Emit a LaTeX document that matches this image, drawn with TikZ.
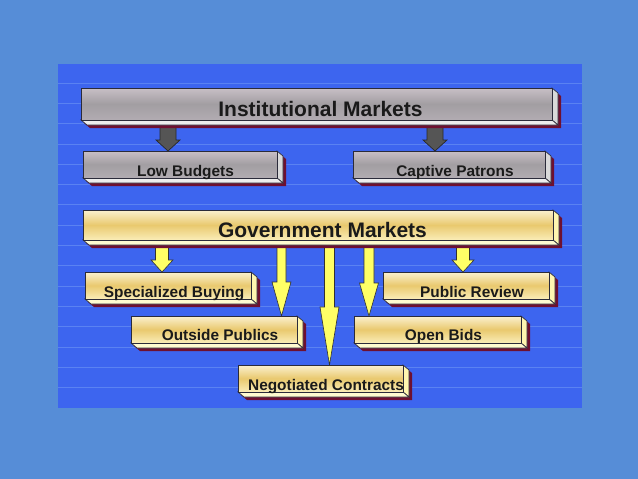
\documentclass[tikz,border=0pt]{standalone}
\usepackage{fontspec}
\setmainfont{Liberation Sans}
\usetikzlibrary{calc,backgrounds}
\pgfdeclarelayer{arrowlayer}
\pgfsetlayers{background,arrowlayer,main}
\definecolor{outerbg}{HTML}{568DD7}
\definecolor{panelbg}{HTML}{3D65EF}
\definecolor{panelline}{HTML}{5A82F2}
\definecolor{shadowc}{HTML}{6E1030}
\definecolor{edgec}{HTML}{2B2B3A}
\definecolor{txtc}{HTML}{1A1A1A}
\definecolor{gtop}{HTML}{C8BFC6}
\definecolor{gmid}{HTML}{A29EA2}
\definecolor{gbot}{HTML}{B2ACB2}
\definecolor{ytop}{HTML}{FBF1D0}
\definecolor{ymid}{HTML}{E9C96E}
\definecolor{ybot}{HTML}{FAEDB8}
\tikzset{
  x=1pt, y=-1pt,
  boxshape/.style={rectangle, inner sep=0pt, outer sep=0pt},
  edge/.style={draw=edgec, line width=0.7pt},
  grayfront/.style={top color=gtop, bottom color=gbot, middle color=gmid},
  grayside/.style={fill=gray!30!white, draw=edgec, line width=0.7pt},
  graybottom/.style={fill=gray!14!white, draw=edgec, line width=0.7pt},
  yelfront/.style={top color=ytop, bottom color=ybot, middle color=ymid},
  yelside/.style={fill={rgb,255:red,255;green,246;blue,176}, draw=edgec, line width=0.7pt},
  yelbottom/.style={fill={rgb,255:red,255;green,251;blue,208}, draw=edgec, line width=0.7pt},
  grayarrow/.style={fill={rgb,255:red,85;green,85;blue,85}, draw={rgb,255:red,40;green,40;blue,40}, line width=0.7pt},
  yelarrow/.style={fill={rgb,255:red,255;green,255;blue,102}, draw={rgb,255:red,50;green,50;blue,50}, line width=0.6pt},
  bigtxt/.style={inner sep=0pt, anchor=base, text=txtc, font=\fontsize{21}{24}\selectfont\bfseries},
  smalltxt/.style={inner sep=0pt, anchor=base, text=txtc, font=\fontsize{15.4}{18}\selectfont\bfseries}
}
% #1 name, #2 center, #3 width, #4 height, #5 kind
\newcommand\bevbox[5]{%
  \node[boxshape, minimum width=#3, minimum height=#4] (#1) at (#2) {};
  \fill[shadowc] ($(#1.north west)+(3,3)$) -- ($(#1.north east)+(3,3)$) -- ($(#1.north east)+(9,8)$) -- ($(#1.south east)+(9,8)$) -- ($(#1.south west)+(9,8)$) -- ($(#1.south west)+(3,3)$) -- cycle;
  \filldraw[#5side] (#1.north east) -- ($(#1.north east)+(6,5)$) -- ($(#1.south east)+(6,5)$) -- (#1.south east) -- cycle;
  \filldraw[#5bottom] (#1.south west) -- (#1.south east) -- ($(#1.south east)+(6,5)$) -- ($(#1.south west)+(6,5)$) -- cycle;
  \shade[#5front] (#1.north west) rectangle (#1.south east);
  \draw[edge] (#1.north west) rectangle (#1.south east);
}
% #1 style, #2 from, #3 to, #4 x, #5 shaft half width, #6 head half width, #7 head length, #8 name
\newcommand\blockarrow[8]{%
  \coordinate (#8x) at (#4,0);
  \coordinate (#8s) at (#2.south -| #8x);
  \coordinate (#8e) at (#3.north -| #8x);
  \begin{pgfonlayer}{arrowlayer}
  \filldraw[#1] ($(#8s)+(-#5,0)$) -- ($(#8s)+(#5,0)$) -- ($(#8e)+(#5,-#7)$) -- ($(#8e)+(#6,-#7)$) -- (#8e) -- ($(#8e)+(-#6,-#7)$) -- ($(#8e)+(-#5,-#7)$) -- cycle;
  \end{pgfonlayer}
}
\begin{document}
\begin{tikzpicture}
\useasboundingbox (0,0) rectangle (638,479);
\begin{pgfonlayer}{background}
  \fill[outerbg] (0,0) rectangle (638,479);
  \fill[panelbg] (58,64) rectangle (582,408);
  \foreach \k in {0,...,15} {
    \draw[panelline, line width=0.8pt] (58,{83+20.3*\k}) -- (582,{83+20.3*\k});
  }
\end{pgfonlayer}

\bevbox{inst}{316.5,104}{471pt}{32pt}{gray}
\bevbox{low}{180,164.5}{194pt}{27pt}{gray}
\bevbox{captive}{449,164.5}{192pt}{27pt}{gray}
\bevbox{gov}{318,225}{470pt}{30pt}{yel}
\bevbox{spec}{168,285.5}{166pt}{27pt}{yel}
\bevbox{outside}{214,329.5}{166pt}{27pt}{yel}
\bevbox{neg}{320.5,378.5}{165pt}{27pt}{yel}
\bevbox{public}{466,285.5}{166pt}{27pt}{yel}
\bevbox{open}{437.5,329.5}{167pt}{27pt}{yel}

\node[bigtxt] (instt) at (320.5,116) {Institutional Markets};
\node[smalltxt] (lowt) at (185.5,176) {Low Budgets};
\node[smalltxt] (captivet) at (455,176) {Captive Patrons};
\node[bigtxt] (govt) at (322.5,237) {Government Markets};
\node[smalltxt] (spect) at (174,297) {Specialized Buying};
\node[smalltxt] (outsidet) at (220,340.5) {Outside Publics};
\node[smalltxt] (negt) at (326,390.5) {Negotiated Contracts};
\node[smalltxt] (publict) at (472,297) {Public Review};
\node[smalltxt] (opent) at (443.5,340.5) {Open Bids};

\blockarrow{grayarrow}{inst}{low}{168}{8}{12}{11}{a1}
\blockarrow{grayarrow}{inst}{captive}{435}{8}{12}{11}{a2}
\blockarrow{yelarrow}{gov}{spec}{162}{6.5}{11}{12}{a3}
\blockarrow{yelarrow}{gov}{public}{463}{6.5}{11}{12}{a4}
\blockarrow{yelarrow}{gov}{outside}{281.5}{4.5}{9.5}{34}{a5}
\blockarrow{yelarrow}{gov}{neg}{329.5}{5}{9.5}{58}{a6}
\blockarrow{yelarrow}{gov}{open}{369}{5}{9.5}{33}{a7}
\end{tikzpicture}
\end{document}
